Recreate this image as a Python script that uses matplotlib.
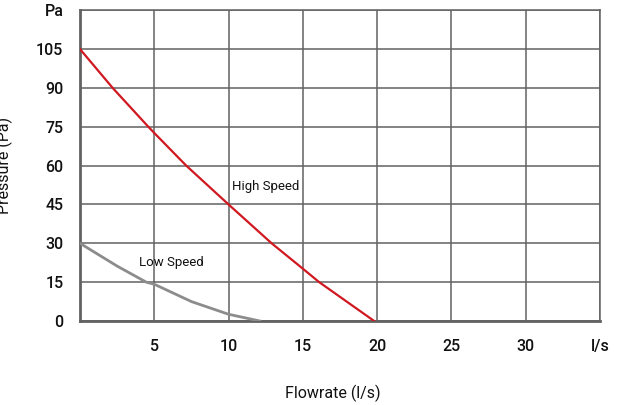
import matplotlib
matplotlib.use("Agg")
import matplotlib.pyplot as plt

plt.rcParams['font.family'] = ['Roboto', 'DejaVu Sans']

# curves (flow in l/s, pressure in Pa)
high_flow = [0, 2.2, 4.6, 5, 7.15, 10, 12.9, 15, 16.1, 19.8]
high_pa = [105, 90, 75, 72.6, 60, 45, 30, 20.2, 15, 0]
low_flow = [0, 2.5, 4.46, 5, 7.5, 10, 12.1]
low_pa = [30, 21.2, 15, 14.2, 7.5, 2.6, 0]

x_ticks = [5, 10, 15, 20, 25, 30, 35]
x_labels = ['5', '10', '15', '20', '25', '30', 'l/s']
y_ticks = [0, 15, 30, 45, 60, 75, 90, 105, 120]
y_labels = ['0', '15', '30', '45', '60', '75', '90', '105', 'Pa']

grid_col = '#626262'

fig = plt.figure(figsize=(6.17, 4.05), dpi=100)
ax = fig.add_axes([0.1297, 0.2074, 0.9724 - 0.1297, 0.9746 - 0.2074])

ax.plot(high_flow, high_pa, color='#d01820', lw=1.6, zorder=3, solid_joinstyle='round')
ax.plot(low_flow, low_pa, color='#8c8c8c', lw=2.0, zorder=3, solid_joinstyle='round')

ax.text(10.2, 52, 'High Speed', fontsize=9.5, color='#111111', va='center', ha='left')
ax.text(3.95, 22.5, 'Low Speed', fontsize=9.5, color='#111111', va='center', ha='left')

ax.set_xlim(0, 35)
ax.set_ylim(0, 120)
ax.set_xticks(x_ticks)
ax.set_xticklabels(x_labels)
ax.set_yticks(y_ticks)
ax.set_yticklabels(y_labels)
ax.tick_params(axis='both', length=0, labelsize=11.5, colors='#111111')
ax.tick_params(axis='x', pad=13)
ax.tick_params(axis='y', pad=12)
for lab in ax.get_xticklabels() + ax.get_yticklabels():
    lab.set_fontweight('medium')

ax.grid(True, color=grid_col, lw=1.1)
ax.set_axisbelow(True)
for side in ['top', 'right']:
    ax.spines[side].set_color(grid_col)
    ax.spines[side].set_linewidth(1.1)
for side in ['left', 'bottom']:
    ax.spines[side].set_color(grid_col)
    ax.spines[side].set_linewidth(2.0)

ax.set_xlabel('Flowrate (l/s)', fontsize=11.5, color='#111111')
ax.set_ylabel('Pressure (Pa)', fontsize=11.5, color='#111111')
ax.xaxis.set_label_coords(0.486, -0.205)
ax.yaxis.set_label_coords(-0.129, 0.5)

fig.savefig('out.png', dpi=100)
